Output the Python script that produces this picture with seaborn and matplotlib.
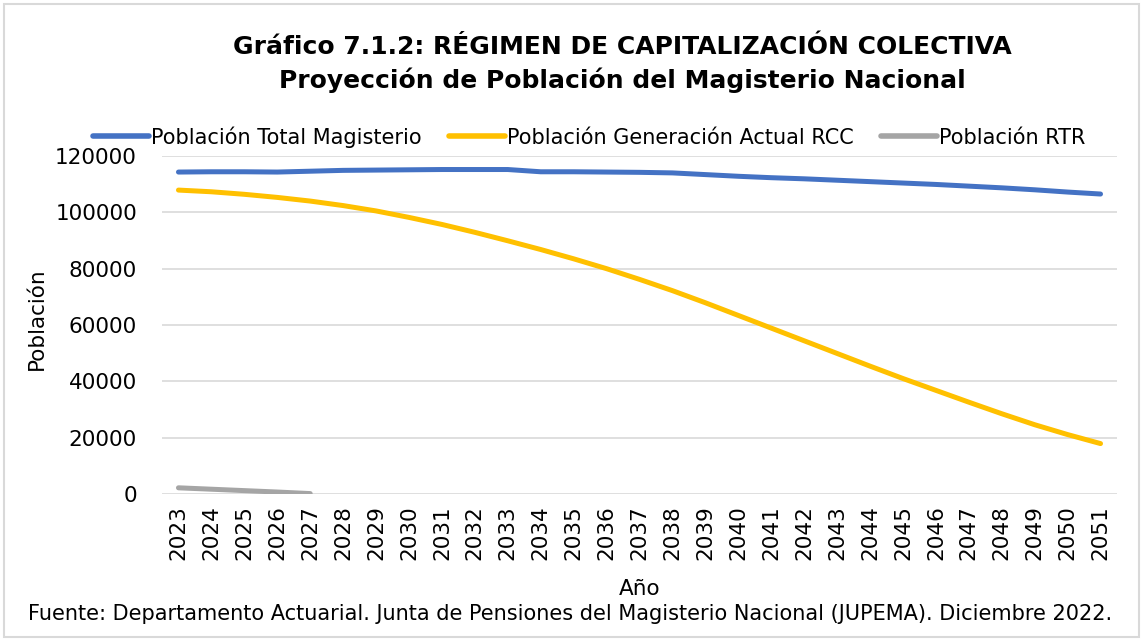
import pandas as pd
import numpy as np
import matplotlib.pyplot as plt
import matplotlib.patches as patches
import seaborn as sns

years = list(range(2023, 2052))
total_magisterio = [114300, 114400, 114400, 114300, 114600, 114900, 115000, 115100, 115200, 115200,
                    115200, 114400, 114400, 114300, 114200, 114000, 113400, 112800, 112300, 111900,
                    111400, 110900, 110400, 109900, 109300, 108700, 108000, 107200, 106500]
generacion_rcc = [107900, 107300, 106400, 105300, 104000, 102400, 100500, 98200, 95700, 92900,
                  89900, 86800, 83500, 80000, 76200, 72200, 67900, 63400, 58900, 54400,
                  49900, 45400, 41000, 36800, 32600, 28500, 24600, 21100, 17900]
rtr_years = [2023, 2024, 2025, 2026, 2027]
poblacion_rtr = [2200, 1700, 1200, 700, 150]

series_names = ["Población Total Magisterio", "Población Generación Actual RCC", "Población RTR"]
colors = ["#4472C4", "#FFC000", "#A5A5A5"]

df = pd.concat([
    pd.DataFrame({"Año": years, "Población": total_magisterio, "Serie": series_names[0]}),
    pd.DataFrame({"Año": years, "Población": generacion_rcc, "Serie": series_names[1]}),
    pd.DataFrame({"Año": rtr_years, "Población": poblacion_rtr, "Serie": series_names[2]}),
])

sns.set_style("white")
plt.rcParams['font.family'] = ['DejaVu Sans']
plt.rcParams['text.color'] = 'black'
plt.rcParams['axes.labelcolor'] = 'black'
plt.rcParams['xtick.color'] = 'black'
plt.rcParams['ytick.color'] = 'black'

fig = plt.figure(figsize=(11.43, 6.41), dpi=100)
ax = fig.add_axes([162 / 1143, 1 - 494 / 641, (1117 - 162) / 1143, (494 - 156) / 641])

sns.lineplot(data=df, x="Año", y="Población", hue="Serie", palette=dict(zip(series_names, colors)),
             linewidth=3.6, ax=ax, legend=False)
for line in ax.lines:
    line.set_solid_capstyle("round")
    line.set_solid_joinstyle("round")

ax.set_xlim(2022.5, 2051.5)
ax.set_ylim(0, 120000)
ax.set_yticks(range(0, 120001, 20000))
ax.set_xticks(years)
ax.set_xticklabels([str(y) for y in years], rotation=90, fontsize=15.5)
ax.tick_params(axis="y", labelsize=15.5, length=0, pad=18)
ax.tick_params(axis="x", length=0, pad=8)
ax.grid(axis="y", color="#d9d9d9", linewidth=1.2)
ax.set_axisbelow(True)
for s in ax.spines.values():
    s.set_visible(False)
ax.set_ylabel("Población", fontsize=15.5)
ax.yaxis.set_label_coords(-0.121, 0.52)
ax.set_xlabel("Año", fontsize=15.5, labelpad=14)

handles = [plt.Line2D([], [], color=c, lw=4, solid_capstyle="round") for c in colors]
fig.legend(handles, series_names, loc="center", bbox_to_anchor=(589 / 1143, 1 - 137 / 641),
           ncol=3, frameon=False, fontsize=15, handlelength=2.7, handletextpad=0.1,
           columnspacing=1.3)

fig.text(622 / 1143, 1 - 64 / 641,
         "Gráfico 7.1.2: RÉGIMEN DE CAPITALIZACIÓN COLECTIVA\nProyección de Población del Magisterio Nacional",
         ha="center", va="center", fontsize=18, fontweight="bold", linespacing=1.45)
fig.text(570 / 1143, 1 - 614 / 641,
         "Fuente: Departamento Actuarial. Junta de Pensiones del Magisterio Nacional (JUPEMA). Diciembre 2022.",
         ha="center", va="center", fontsize=15)

fig.patches.append(patches.Rectangle((4 / 1143, 4 / 641), 1 - 8 / 1143, 1 - 8 / 641,
                                     transform=fig.transFigure, fill=False,
                                     edgecolor="#d9d9d9", linewidth=1.5))

fig.savefig("out.png", dpi=100)
